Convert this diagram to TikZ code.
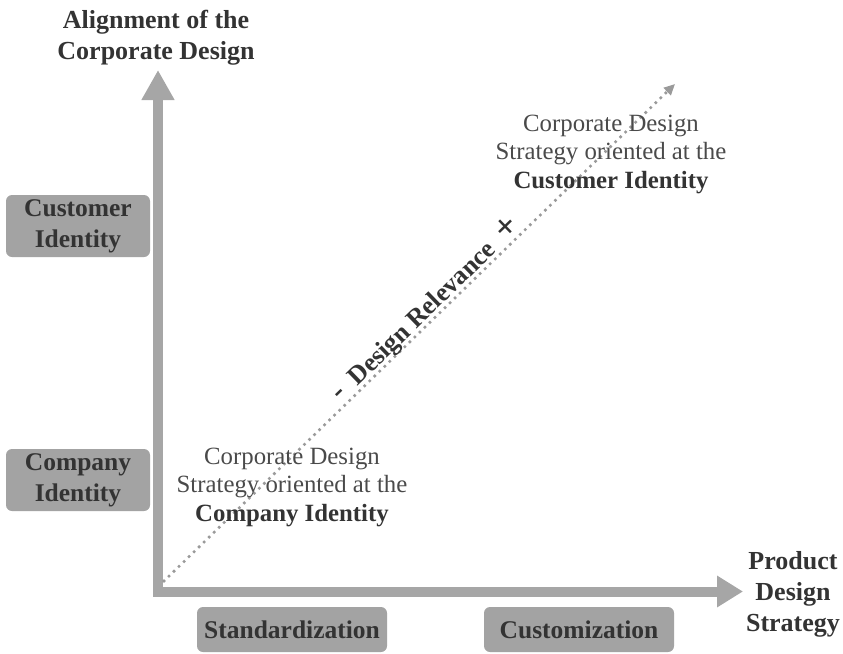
\documentclass[tikz,border=0pt]{standalone}
\usepackage{fontspec}
\setmainfont{Liberation Serif}
\usetikzlibrary{arrows.meta}
\definecolor{axisgray}{HTML}{A6A6A6}
\definecolor{boxgray}{HTML}{A3A3A3}
\definecolor{txtdark}{HTML}{333333}
\definecolor{txtmid}{HTML}{4A4A4A}
\definecolor{dotgray}{HTML}{9A9A9A}
\begin{document}
\begin{tikzpicture}[x=1pt,y=-1pt,
  axis/.style={draw=axisgray, line width=10pt, line join=miter,
    {Triangle[length=30pt,width=31pt,fill=axisgray]}-{Triangle[length=26pt,width=30pt,fill=axisgray]}},
  dotline/.style={draw=dotgray, line width=3.6pt, line cap=round,
    dash pattern=on 0pt off 7pt, -{Triangle[length=11pt,width=10pt,fill=dotgray]}},
  boxlbl/.style={fill=boxgray, rounded corners=6pt, text=txtdark,
    font=\bfseries\fontsize{25.5}{31}\selectfont, align=center, inner sep=0pt},
  axislbl/.style={text=txtdark, font=\bfseries\fontsize{26}{31}\selectfont,
    align=center, inner sep=0pt},
  notelbl/.style={text=txtmid, font=\fontsize{24.8}{28.5}\selectfont,
    align=center, inner sep=0pt},
  rellbl/.style={text=txtdark, font=\bfseries\fontsize{26}{28}\selectfont, inner sep=0pt}
]
\useasboundingbox (0,0) rectangle (843,653);
% axes
\coordinate (ytip) at (158,70);
\coordinate (xtip) at (743,591.5);
\draw[axis] (ytip) |- (xtip);
% diagonal
\coordinate (ds) at (164,581);
\coordinate (de) at (675,84);
\draw[dotline] (ds) -- (de);
% axis titles
\node[axislbl] (ytitle) at (156,38) {Alignment of the\\Corporate Design};
\node[axislbl] (xtitle) at (793,594) {Product\\Design\\Strategy};
% category boxes
\node[boxlbl, minimum width=144pt, minimum height=62pt] (custid) at (78,226) {Customer\\Identity};
\node[boxlbl, minimum width=144pt, minimum height=62pt] (compid) at (78,480) {Company\\Identity};
\node[boxlbl, minimum width=190pt, minimum height=45pt] (stand) at (292,629.5) {Standardization};
\node[boxlbl, minimum width=190pt, minimum height=45pt] (custom) at (579,629.5) {Customization};
% notes
\node[notelbl] (upnote) at (611,154) {Corporate Design\\Strategy oriented at the\\\textbf{\color{txtdark}Customer Identity}};
\node[notelbl] (lownote) at (292,487) {Corporate Design\\Strategy oriented at the\\\textbf{\color{txtdark}Company Identity}};
% relevance
\node[rellbl, rotate=44.2] (rel) at (426,310) {\raisebox{1pt}{\fontsize{30}{30}\selectfont -}\hspace{13pt}Design Relevance\hspace{13pt}{\fontsize{36}{36}\selectfont +}};
\end{tikzpicture}
\end{document}
